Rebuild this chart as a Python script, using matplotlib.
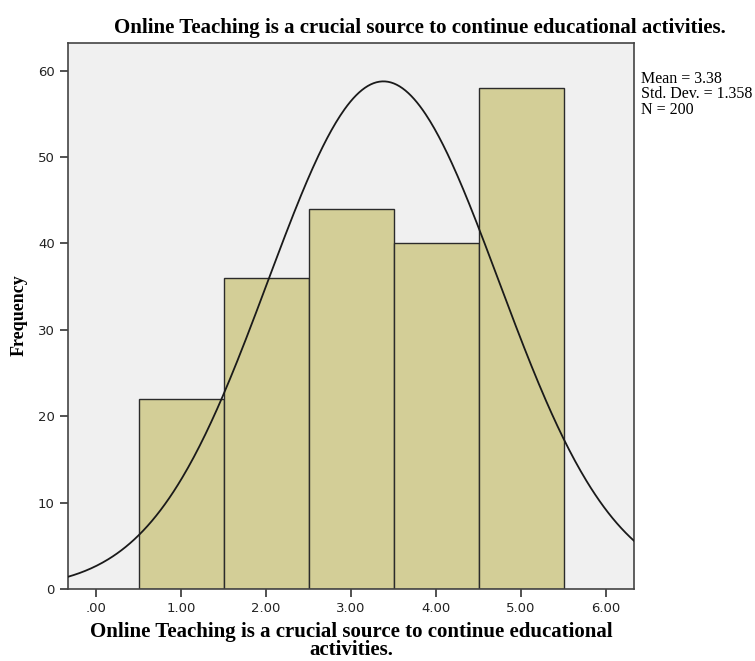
import numpy as np
import matplotlib
matplotlib.use("Agg")
import matplotlib.pyplot as plt

# histogram data
bin_centers = [1, 2, 3, 4, 5]
counts = [22, 36, 44, 40, 58]
tick_values = [0, 1, 2, 3, 4, 5, 6]
tick_labels = [".00", "1.00", "2.00", "3.00", "4.00", "5.00", "6.00"]
y_ticks = [0, 10, 20, 30, 40, 50, 60]

MEAN = 3.38
SD = 1.358
N = 200

TITLE = "Online Teaching is a crucial source to continue educational activities."
XLABEL = "Online Teaching is a crucial source to continue educational\nactivities."

fig = plt.figure(figsize=(7.55, 6.61), dpi=100)
ax = fig.add_axes([0.090, 0.109, 0.750, 0.826])
ax.set_facecolor("#f0f0f0")

ax.bar(bin_centers, counts, width=1.0, color="#d3ce97", edgecolor="#2b2b2b",
       linewidth=1.0, zorder=2)

xs = np.linspace(-0.4, 6.4, 400)
pdf = N * 1.0 / (SD * np.sqrt(2 * np.pi)) * np.exp(-0.5 * ((xs - MEAN) / SD) ** 2)
ax.plot(xs, pdf, color="#1a1a1a", linewidth=1.3, zorder=3)

ax.set_xlim(-0.33, 6.33)
ax.set_ylim(0, 63.2)
ax.set_xticks(tick_values)
ax.set_xticklabels(tick_labels)
ax.set_yticks(y_ticks)
for lab in ax.get_xticklabels() + ax.get_yticklabels():
    lab.set_fontfamily("DejaVu Sans")
    lab.set_fontsize(9.5)
    lab.set_color("#222222")
ax.tick_params(direction="out", length=6, width=1.2, color="#333333")
for s in ax.spines.values():
    s.set_color("#444444")
    s.set_linewidth(1.2)

fig.text(0.556, 0.957, TITLE, ha="center", va="center", family="Liberation Serif",
         fontweight="bold", fontsize=15)
fig.text(0.465, 0.030, XLABEL, ha="center", va="center", family="Liberation Serif",
         fontweight="bold", fontsize=15, linespacing=0.9)
fig.text(0.026, 0.523, "Frequency", ha="center", va="center", rotation=90,
         family="Liberation Serif", fontweight="bold", fontsize=13)

fig.text(0.849, 0.893, f"Mean = {MEAN}\nStd. Dev. = {SD}\nN = {N}", ha="left", va="top",
         family="Liberation Serif", fontsize=11.5, linespacing=0.95)

fig.savefig("out.png", dpi=100)
